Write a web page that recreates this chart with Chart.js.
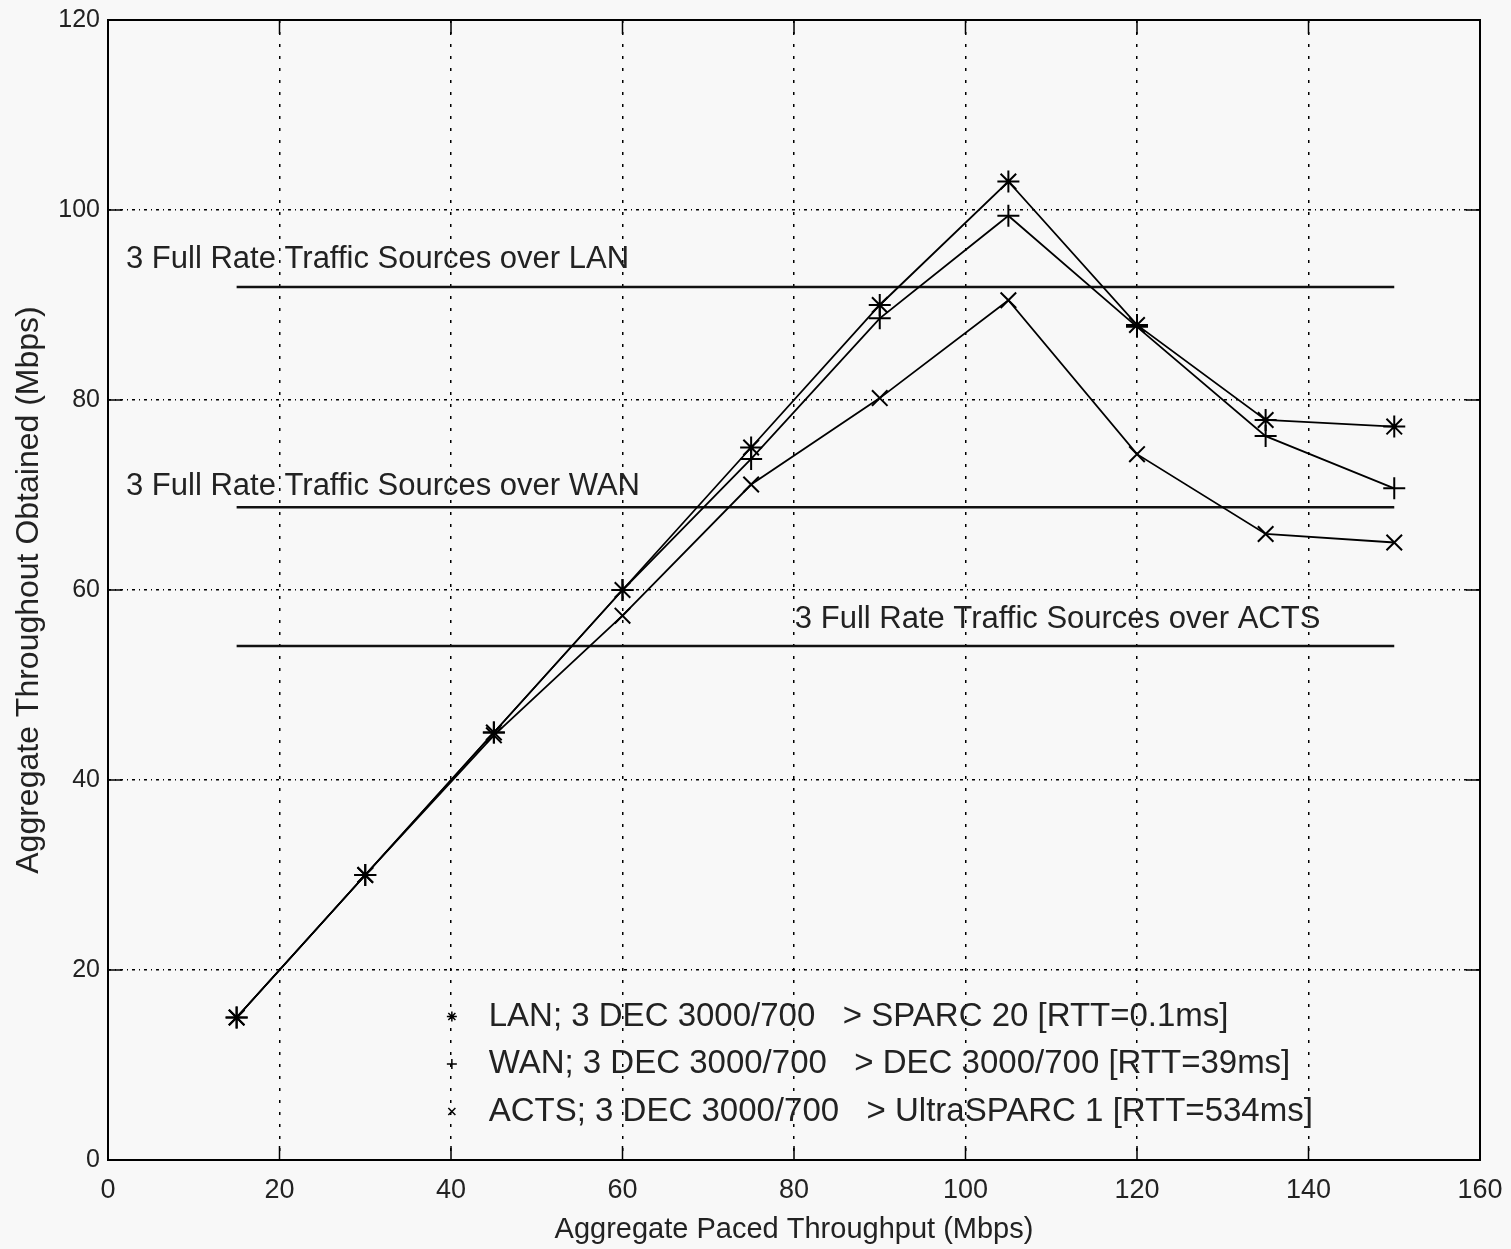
<!DOCTYPE html>
<html>
<head>
<meta charset="utf-8">
<script src="https://cdn.jsdelivr.net/npm/chart.js@4"></script>
<style>
  html, body { margin: 0; padding: 0; background: #f8f8f8; }
  #wrap { width: 1511px; height: 1249px; }
</style>
</head>
<body>
<div id="wrap"><canvas id="chart" width="1511" height="1249"></canvas></div>
<script>
const pacedRates  = [15, 30, 45, 60, 75, 90, 105, 120, 135, 150];
const lanValues   = [15, 30, 45, 60, 75, 90, 103, 87.9, 77.9, 77.2];
const wanValues   = [15, 30, 45, 60, 73.8, 88.6, 99.4, 87.7, 76.2, 70.7];
const actsValues  = [15, 30, 44.7, 57.3, 71.1, 80.2, 90.5, 74.3, 65.9, 65];

const fullRateSpan = [15, 150];
const fullRateLan  = 91.9;
const fullRateWan  = 68.7;
const fullRateActs = 54.1;

const xTicks = [0, 20, 40, 60, 80, 100, 120, 140, 160];
const yTicks = [0, 20, 40, 60, 80, 100, 120];

const legendLabels = [
  'LAN; 3 DEC 3000/700   > SPARC 20 [RTT=0.1ms]',
  'WAN; 3 DEC 3000/700   > DEC 3000/700 [RTT=39ms]',
  'ACTS; 3 DEC 3000/700   > UltraSPARC 1 [RTT=534ms]',
];
const legendStyles = ['star', 'cross', 'crossRot'];

const FONT = '"Liberation Sans", Arial, sans-serif';

function toPoints(values) {
  return values.map((v, i) => ({ x: pacedRates[i], y: v }));
}

function flatLine(level) {
  return fullRateSpan.map(x => ({ x, y: level }));
}

function seriesDataset(label, values, style) {
  return {
    label,
    data: toPoints(values),
    showLine: true,
    borderColor: '#000',
    borderWidth: 1.8,
    pointStyle: style,
    pointRadius: 11,
    pointBorderWidth: 2,
    pointBorderColor: '#000',
    pointBackgroundColor: '#000',
  };
}

function refDataset(label, level) {
  return {
    label,
    data: flatLine(level),
    showLine: true,
    borderColor: '#111',
    borderWidth: 2.5,
    pointRadius: 0,
  };
}

// texts, inside ticks, box and the little legend
const decorPlugin = {
  id: 'decor',
  beforeDraw(chart) {
    const { ctx } = chart;
    ctx.save();
    ctx.fillStyle = '#f8f8f8';
    ctx.fillRect(0, 0, chart.width, chart.height);
    ctx.restore();
  },
  afterDatasetsDraw(chart) {
    const { ctx, chartArea: a, scales: { x, y } } = chart;
    ctx.save();

    // frame
    ctx.strokeStyle = '#000';
    ctx.lineWidth = 2;
    ctx.strokeRect(a.left, a.top, a.right - a.left, a.bottom - a.top);

    // inside ticks
    ctx.lineWidth = 1.5;
    ctx.beginPath();
    xTicks.forEach(t => {
      const px = x.getPixelForValue(t);
      ctx.moveTo(px, a.bottom); ctx.lineTo(px, a.bottom - 14);
      ctx.moveTo(px, a.top);    ctx.lineTo(px, a.top + 14);
    });
    yTicks.forEach(t => {
      const py = y.getPixelForValue(t);
      ctx.moveTo(a.left, py);  ctx.lineTo(a.left + 14, py);
      ctx.moveTo(a.right, py); ctx.lineTo(a.right - 14, py);
    });
    ctx.stroke();

    // labels over the reference lines
    ctx.fillStyle = '#222';
    ctx.font = '31px ' + FONT;
    ctx.textBaseline = 'middle';
    ctx.textAlign = 'left';
    ctx.fillText('3 Full Rate Traffic Sources over LAN', x.getPixelForValue(2.1), y.getPixelForValue(94.8));
    ctx.fillText('3 Full Rate Traffic Sources over WAN', x.getPixelForValue(2.1), y.getPixelForValue(70.9));
    ctx.fillText('3 Full Rate Traffic Sources over ACTS', x.getPixelForValue(80.1), y.getPixelForValue(56.9));

    // legend
    const rows = [15.1, 10.1, 5.1];
    ctx.font = '33px ' + FONT;
    legendLabels.forEach((txt, i) => {
      const ly = y.getPixelForValue(rows[i]);
      const mx = x.getPixelForValue(40.1);
      ctx.strokeStyle = '#000';
      ctx.lineWidth = 1.5;
      Chart.helpers.drawPoint(ctx, { pointStyle: legendStyles[i], radius: 5, rotation: 0, borderWidth: 1.5 }, mx, ly);
      ctx.fillStyle = '#222';
      ctx.fillText(txt, x.getPixelForValue(44.4), ly);
    });

    ctx.restore();
  },
};

const gridDash = {
  display: true,
  color: '#000',
  lineWidth: 1.5,
  drawTicks: false,
};

new Chart(document.getElementById('chart'), {
  type: 'scatter',
  data: {
    datasets: [
      seriesDataset('LAN', lanValues, 'star'),
      seriesDataset('WAN', wanValues, 'cross'),
      seriesDataset('ACTS', actsValues, 'crossRot'),
      refDataset('Full rate LAN', fullRateLan),
      refDataset('Full rate WAN', fullRateWan),
      refDataset('Full rate ACTS', fullRateActs),
    ],
  },
  options: {
    responsive: false,
    animation: false,
    layout: { autoPadding: false, padding: { top: 20, right: 31, left: 0, bottom: 0 } },
    plugins: {
      legend: { display: false },
      tooltip: { enabled: false },
    },
    scales: {
      x: {
        type: 'linear',
        min: 0,
        max: 160,
        afterBuildTicks: s => { s.ticks = xTicks.map(v => ({ value: v })); },
        grid: gridDash,
        border: { display: false, dash: [3, 9] },
        ticks: {
          color: '#222',
          font: { family: FONT, size: 27 },
          padding: 14,
          maxRotation: 0,
        },
        title: {
          display: true,
          text: 'Aggregate Paced Throughput (Mbps)',
          color: '#222',
          font: { family: FONT, size: 29 },
          padding: { top: 0, bottom: 2 },
        },
        afterFit: s => { s.height = 89; s.paddingLeft = 0; s.paddingRight = 0; },
      },
      y: {
        type: 'linear',
        min: 0,
        max: 120,
        afterBuildTicks: s => { s.ticks = yTicks.map(v => ({ value: v })); },
        grid: gridDash,
        border: { display: false, dash: [3, 4, 1, 4] },
        ticks: {
          color: '#222',
          font: { family: FONT, size: 25 },
          padding: 8,
        },
        title: {
          display: true,
          text: 'Aggregate Throughout Obtained (Mbps)',
          color: '#222',
          font: { family: FONT, size: 32 },
          padding: { top: 10, bottom: 0 },
        },
        afterFit: s => { s.width = 108; s.paddingTop = 0; s.paddingBottom = 0; },
      },
    },
  },
  plugins: [decorPlugin],
});
</script>
</body>
</html>
